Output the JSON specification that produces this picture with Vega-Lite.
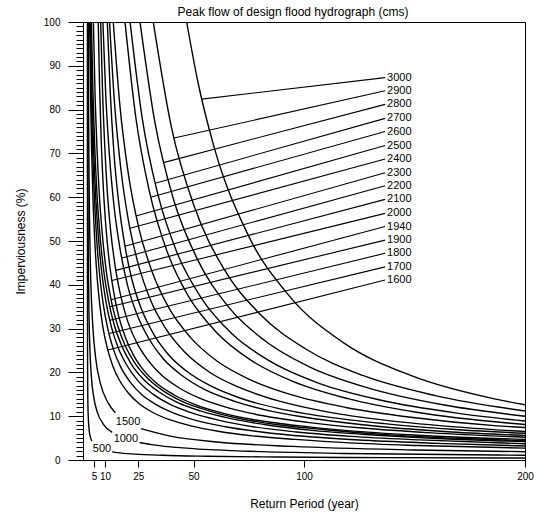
{
  "$schema": "https://vega.github.io/schema/vega-lite/v6.json",
  "width": 442,
  "height": 438,
  "autosize": {"type": "none"},
  "padding": {"left": 83, "top": 22, "right": 12, "bottom": 56},
  "config": {
    "font": "Liberation Sans",
    "view": {"stroke": "black", "strokeWidth": 1}
  },
  "title": {
    "text": "Peak flow of design flood hydrograph (cms)",
    "fontSize": 12,
    "fontWeight": "normal",
    "color": "black",
    "anchor": "middle",
    "offset": 4,
    "dx": -11,
    "dy": 6
  },
  "datasets": {
    "curves": [
      {"flow": 3000, "T": 46.9, "I": 100}, {"flow": 3000, "T": 52, "I": 86.3}, {"flow": 3000, "T": 59.0, "I": 72.0}, {"flow": 3000, "T": 74.3, "I": 51.8}, {"flow": 3000, "T": 93.6, "I": 37.3}, {"flow": 3000, "T": 117.8, "I": 26.8}, {"flow": 3000, "T": 148.3, "I": 19.3}, {"flow": 3000, "T": 186.7, "I": 13.9}, {"flow": 3000, "T": 200, "I": 12.6},
      {"flow": 2900, "T": 31.8, "I": 100}, {"flow": 2900, "T": 40.0, "I": 76.0}, {"flow": 2900, "T": 50.4, "I": 57.8}, {"flow": 2900, "T": 63.4, "I": 43.9}, {"flow": 2900, "T": 79.9, "I": 33.4}, {"flow": 2900, "T": 100.6, "I": 25.4}, {"flow": 2900, "T": 126.6, "I": 19.3}, {"flow": 2900, "T": 159.4, "I": 14.7}, {"flow": 2900, "T": 200, "I": 11.2},
      {"flow": 2800, "T": 25.8, "I": 100}, {"flow": 2800, "T": 32.5, "I": 77.2}, {"flow": 2800, "T": 40.9, "I": 59.6}, {"flow": 2800, "T": 51.5, "I": 46.1}, {"flow": 2800, "T": 64.8, "I": 35.6}, {"flow": 2800, "T": 81.6, "I": 27.5}, {"flow": 2800, "T": 102.7, "I": 21.2}, {"flow": 2800, "T": 129.3, "I": 16.4}, {"flow": 2800, "T": 162.8, "I": 12.6}, {"flow": 2800, "T": 200, "I": 10.0},
      {"flow": 2700, "T": 21.3, "I": 100}, {"flow": 2700, "T": 26.8, "I": 78.0}, {"flow": 2700, "T": 33.8, "I": 60.8}, {"flow": 2700, "T": 42.5, "I": 47.4}, {"flow": 2700, "T": 53.5, "I": 37.0}, {"flow": 2700, "T": 67.4, "I": 28.8}, {"flow": 2700, "T": 84.8, "I": 22.5}, {"flow": 2700, "T": 106.8, "I": 17.5}, {"flow": 2700, "T": 134.4, "I": 13.7}, {"flow": 2700, "T": 169.2, "I": 10.7}, {"flow": 2700, "T": 200, "I": 8.9},
      {"flow": 2600, "T": 19.0, "I": 100}, {"flow": 2600, "T": 23.9, "I": 78.2}, {"flow": 2600, "T": 30.1, "I": 61.2}, {"flow": 2600, "T": 37.9, "I": 47.8}, {"flow": 2600, "T": 47.7, "I": 37.4}, {"flow": 2600, "T": 60.1, "I": 29.3}, {"flow": 2600, "T": 75.6, "I": 22.9}, {"flow": 2600, "T": 95.2, "I": 17.9}, {"flow": 2600, "T": 119.9, "I": 14.0}, {"flow": 2600, "T": 150.9, "I": 10.9}, {"flow": 2600, "T": 200, "I": 8.1},
      {"flow": 2500, "T": 13.7, "I": 100}, {"flow": 2500, "T": 16.7, "I": 80.9}, {"flow": 2500, "T": 20.5, "I": 65.4}, {"flow": 2500, "T": 25.3, "I": 52.9}, {"flow": 2500, "T": 31.4, "I": 42.8}, {"flow": 2500, "T": 39.0, "I": 34.6}, {"flow": 2500, "T": 48.6, "I": 28.0}, {"flow": 2500, "T": 60.6, "I": 22.6}, {"flow": 2500, "T": 75.8, "I": 18.3}, {"flow": 2500, "T": 94.9, "I": 14.8}, {"flow": 2500, "T": 119, "I": 12.0}, {"flow": 2500, "T": 149.3, "I": 9.7}, {"flow": 2500, "T": 187.4, "I": 7.8}, {"flow": 2500, "T": 200, "I": 7.4},
      {"flow": 2400, "T": 12.0, "I": 100}, {"flow": 2400, "T": 14.2, "I": 81.9}, {"flow": 2400, "T": 17.0, "I": 67.0}, {"flow": 2400, "T": 20.5, "I": 54.8}, {"flow": 2400, "T": 24.9, "I": 44.9}, {"flow": 2400, "T": 30.4, "I": 36.7}, {"flow": 2400, "T": 37.3, "I": 30.1}, {"flow": 2400, "T": 46.1, "I": 24.6}, {"flow": 2400, "T": 57.1, "I": 20.1}, {"flow": 2400, "T": 71.0, "I": 16.5}, {"flow": 2400, "T": 88.5, "I": 13.5}, {"flow": 2400, "T": 110.5, "I": 11.0}, {"flow": 2400, "T": 138.2, "I": 9.0}, {"flow": 2400, "T": 173.1, "I": 7.4}, {"flow": 2400, "T": 200, "I": 6.5},
      {"flow": 2300, "T": 11.0, "I": 100}, {"flow": 2300, "T": 12.35, "I": 83.7}, {"flow": 2300, "T": 14.0, "I": 70.1}, {"flow": 2300, "T": 16.2, "I": 58.6}, {"flow": 2300, "T": 18.9, "I": 49.1}, {"flow": 2300, "T": 22.2, "I": 41.1}, {"flow": 2300, "T": 26.5, "I": 34.4}, {"flow": 2300, "T": 31.9, "I": 28.8}, {"flow": 2300, "T": 38.6, "I": 24.1}, {"flow": 2300, "T": 47.1, "I": 20.2}, {"flow": 2300, "T": 57.8, "I": 16.9}, {"flow": 2300, "T": 71.3, "I": 14.1}, {"flow": 2300, "T": 88.2, "I": 11.8}, {"flow": 2300, "T": 109.5, "I": 9.9}, {"flow": 2300, "T": 136.4, "I": 8.3}, {"flow": 2300, "T": 170.2, "I": 6.9}, {"flow": 2300, "T": 200, "I": 6.1},
      {"flow": 2200, "T": 9.0, "I": 100}, {"flow": 2200, "T": 10.3, "I": 83.3}, {"flow": 2200, "T": 12.0, "I": 69.3}, {"flow": 2200, "T": 14.1, "I": 57.7}, {"flow": 2200, "T": 16.8, "I": 48.1}, {"flow": 2200, "T": 20.1, "I": 40.0}, {"flow": 2200, "T": 24.4, "I": 33.3}, {"flow": 2200, "T": 29.7, "I": 27.8}, {"flow": 2200, "T": 36.3, "I": 23.1}, {"flow": 2200, "T": 44.8, "I": 19.3}, {"flow": 2200, "T": 55.4, "I": 16.0}, {"flow": 2200, "T": 68.7, "I": 13.4}, {"flow": 2200, "T": 85.5, "I": 11.1}, {"flow": 2200, "T": 106.6, "I": 9.3}, {"flow": 2200, "T": 133.2, "I": 7.7}, {"flow": 2200, "T": 166.7, "I": 6.4}, {"flow": 2200, "T": 200, "I": 5.6},
      {"flow": 2100, "T": 8.0, "I": 100}, {"flow": 2100, "T": 8.8, "I": 84.9}, {"flow": 2100, "T": 9.8, "I": 72.1}, {"flow": 2100, "T": 11.0, "I": 61.2}, {"flow": 2100, "T": 12.6, "I": 51.9}, {"flow": 2100, "T": 14.6, "I": 44.1}, {"flow": 2100, "T": 17.1, "I": 37.4}, {"flow": 2100, "T": 20.2, "I": 31.7}, {"flow": 2100, "T": 24.2, "I": 26.9}, {"flow": 2100, "T": 29.2, "I": 22.9}, {"flow": 2100, "T": 35.5, "I": 19.4}, {"flow": 2100, "T": 43.4, "I": 16.5}, {"flow": 2100, "T": 53.3, "I": 14.0}, {"flow": 2100, "T": 65.8, "I": 11.9}, {"flow": 2100, "T": 81.6, "I": 10.1}, {"flow": 2100, "T": 101.4, "I": 8.6}, {"flow": 2100, "T": 126.4, "I": 7.3}, {"flow": 2100, "T": 157.8, "I": 6.2}, {"flow": 2100, "T": 200, "I": 5.2},
      {"flow": 2000, "T": 6.9, "I": 100}, {"flow": 2000, "T": 7.5, "I": 85.3}, {"flow": 2000, "T": 8.25, "I": 72.8}, {"flow": 2000, "T": 9.2, "I": 62.1}, {"flow": 2000, "T": 10.4, "I": 53.0}, {"flow": 2000, "T": 11.9, "I": 45.2}, {"flow": 2000, "T": 13.8, "I": 38.6}, {"flow": 2000, "T": 16.1, "I": 32.9}, {"flow": 2000, "T": 19.1, "I": 28.1}, {"flow": 2000, "T": 22.9, "I": 23.9}, {"flow": 2000, "T": 27.6, "I": 20.4}, {"flow": 2000, "T": 33.6, "I": 17.4}, {"flow": 2000, "T": 41.1, "I": 14.9}, {"flow": 2000, "T": 50.5, "I": 12.7}, {"flow": 2000, "T": 62.4, "I": 10.8}, {"flow": 2000, "T": 77.3, "I": 9.2}, {"flow": 2000, "T": 96.2, "I": 7.9}, {"flow": 2000, "T": 119.9, "I": 6.7}, {"flow": 2000, "T": 149.7, "I": 5.7}, {"flow": 2000, "T": 200, "I": 4.7},
      {"flow": 1940, "T": 4.7, "I": 100}, {"flow": 1940, "T": 5.4, "I": 84.6}, {"flow": 1940, "T": 6.3, "I": 71.6}, {"flow": 1940, "T": 7.4, "I": 60.5}, {"flow": 1940, "T": 8.8, "I": 51.2}, {"flow": 1940, "T": 10.5, "I": 43.3}, {"flow": 1940, "T": 12.7, "I": 36.6}, {"flow": 1940, "T": 15.5, "I": 31.0}, {"flow": 1940, "T": 19.0, "I": 26.2}, {"flow": 1940, "T": 23.4, "I": 22.2}, {"flow": 1940, "T": 29, "I": 18.8}, {"flow": 1940, "T": 36, "I": 15.9}, {"flow": 1940, "T": 44.8, "I": 13.4}, {"flow": 1940, "T": 55.9, "I": 11.4}, {"flow": 1940, "T": 69.8, "I": 9.6}, {"flow": 1940, "T": 87.4, "I": 8.1}, {"flow": 1940, "T": 109.5, "I": 6.9}, {"flow": 1940, "T": 137.3, "I": 5.8}, {"flow": 1940, "T": 172.4, "I": 4.9}, {"flow": 1940, "T": 200, "I": 4.4},
      {"flow": 1900, "T": 3.8, "I": 100}, {"flow": 1900, "T": 4.47, "I": 84.5}, {"flow": 1900, "T": 5.32, "I": 71.4}, {"flow": 1900, "T": 6.39, "I": 60.3}, {"flow": 1900, "T": 7.73, "I": 51.0}, {"flow": 1900, "T": 9.42, "I": 43.1}, {"flow": 1900, "T": 11.55, "I": 36.4}, {"flow": 1900, "T": 14.2, "I": 30.7}, {"flow": 1900, "T": 17.6, "I": 26.0}, {"flow": 1900, "T": 21.85, "I": 21.9}, {"flow": 1900, "T": 27.2, "I": 18.5}, {"flow": 1900, "T": 33.9, "I": 15.7}, {"flow": 1900, "T": 42.4, "I": 13.2}, {"flow": 1900, "T": 53.1, "I": 11.2}, {"flow": 1900, "T": 66.5, "I": 9.5}, {"flow": 1900, "T": 83.4, "I": 8.0}, {"flow": 1900, "T": 104.7, "I": 6.7}, {"flow": 1900, "T": 131.5, "I": 5.7}, {"flow": 1900, "T": 165.2, "I": 4.8}, {"flow": 1900, "T": 200, "I": 4.2},
      {"flow": 1800, "T": 3.4, "I": 100}, {"flow": 1800, "T": 4.02, "I": 84.2}, {"flow": 1800, "T": 4.8, "I": 71.0}, {"flow": 1800, "T": 5.79, "I": 59.8}, {"flow": 1800, "T": 7.03, "I": 50.4}, {"flow": 1800, "T": 8.59, "I": 42.4}, {"flow": 1800, "T": 10.55, "I": 35.7}, {"flow": 1800, "T": 13.0, "I": 30.1}, {"flow": 1800, "T": 16.1, "I": 25.4}, {"flow": 1800, "T": 20.1, "I": 21.4}, {"flow": 1800, "T": 25, "I": 18.0}, {"flow": 1800, "T": 31.2, "I": 15.2}, {"flow": 1800, "T": 39.0, "I": 12.8}, {"flow": 1800, "T": 48.9, "I": 10.8}, {"flow": 1800, "T": 61.3, "I": 9.1}, {"flow": 1800, "T": 76.9, "I": 7.6}, {"flow": 1800, "T": 96.5, "I": 6.4}, {"flow": 1800, "T": 121.3, "I": 5.4}, {"flow": 1800, "T": 152.4, "I": 4.6}, {"flow": 1800, "T": 200, "I": 3.7},
      {"flow": 1700, "T": 3.2, "I": 100}, {"flow": 1700, "T": 3.72, "I": 84.2}, {"flow": 1700, "T": 4.37, "I": 70.9}, {"flow": 1700, "T": 5.19, "I": 59.7}, {"flow": 1700, "T": 6.22, "I": 50.2}, {"flow": 1700, "T": 7.52, "I": 42.3}, {"flow": 1700, "T": 9.16, "I": 35.6}, {"flow": 1700, "T": 11.2, "I": 30.0}, {"flow": 1700, "T": 13.8, "I": 25.2}, {"flow": 1700, "T": 17.1, "I": 21.2}, {"flow": 1700, "T": 21.2, "I": 17.9}, {"flow": 1700, "T": 26.4, "I": 15.0}, {"flow": 1700, "T": 32.9, "I": 12.7}, {"flow": 1700, "T": 41.1, "I": 10.7}, {"flow": 1700, "T": 51.4, "I": 9.0}, {"flow": 1700, "T": 64.4, "I": 7.6}, {"flow": 1700, "T": 80.8, "I": 6.4}, {"flow": 1700, "T": 101.4, "I": 5.35}, {"flow": 1700, "T": 127.4, "I": 4.5}, {"flow": 1700, "T": 160.1, "I": 3.8}, {"flow": 1700, "T": 200, "I": 3.2},
      {"flow": 1600, "T": 3.0, "I": 100}, {"flow": 1600, "T": 3.39, "I": 84.3}, {"flow": 1600, "T": 3.88, "I": 71.1}, {"flow": 1600, "T": 4.49, "I": 60.0}, {"flow": 1600, "T": 5.27, "I": 50.6}, {"flow": 1600, "T": 6.24, "I": 42.7}, {"flow": 1600, "T": 7.47, "I": 36.0}, {"flow": 1600, "T": 9.02, "I": 30.3}, {"flow": 1600, "T": 10.97, "I": 25.6}, {"flow": 1600, "T": 13.4, "I": 21.6}, {"flow": 1600, "T": 16.5, "I": 18.2}, {"flow": 1600, "T": 20.4, "I": 15.35}, {"flow": 1600, "T": 25.3, "I": 12.9}, {"flow": 1600, "T": 31.4, "I": 10.9}, {"flow": 1600, "T": 39.2, "I": 9.2}, {"flow": 1600, "T": 48.9, "I": 7.8}, {"flow": 1600, "T": 61.2, "I": 6.55}, {"flow": 1600, "T": 76.7, "I": 5.5}, {"flow": 1600, "T": 96.1, "I": 4.7}, {"flow": 1600, "T": 120.6, "I": 3.9}, {"flow": 1600, "T": 151.5, "I": 3.3}, {"flow": 1600, "T": 200, "I": 2.7},
      {"flow": 1500, "part": 1, "T": 2.37, "I": 100}, {"flow": 1500, "part": 1, "T": 2.47, "I": 86.5}, {"flow": 1500, "part": 1, "T": 2.59, "I": 74.8}, {"flow": 1500, "part": 1, "T": 2.74, "I": 64.7}, {"flow": 1500, "part": 1, "T": 2.93, "I": 55.9}, {"flow": 1500, "part": 1, "T": 3.47, "I": 41.8}, {"flow": 1500, "part": 1, "T": 4.34, "I": 31.3}, {"flow": 1500, "part": 1, "T": 5.7, "I": 23.4}, {"flow": 1500, "part": 1, "T": 7.86, "I": 17.5}, {"flow": 1500, "part": 1, "T": 11.3, "I": 13.1}, {"flow": 1500, "part": 1, "T": 14.6, "I": 10.8},
      {"flow": 1500, "part": 2, "T": 26.2, "I": 7.15}, {"flow": 1500, "part": 2, "T": 39, "I": 5.5}, {"flow": 1500, "part": 2, "T": 60.6, "I": 4.1}, {"flow": 1500, "part": 2, "T": 94.9, "I": 3.1}, {"flow": 1500, "part": 2, "T": 149.3, "I": 2.3}, {"flow": 1500, "part": 2, "T": 200, "I": 1.9},
      {"flow": 1000, "part": 1, "T": 2.12, "I": 100}, {"flow": 1000, "part": 1, "T": 2.18, "I": 75.6}, {"flow": 1000, "part": 1, "T": 2.29, "I": 57.2}, {"flow": 1000, "part": 1, "T": 2.46, "I": 43.3}, {"flow": 1000, "part": 1, "T": 2.73, "I": 32.7}, {"flow": 1000, "part": 1, "T": 3.16, "I": 24.8}, {"flow": 1000, "part": 1, "T": 3.84, "I": 18.7}, {"flow": 1000, "part": 1, "T": 4.91, "I": 14.2}, {"flow": 1000, "part": 1, "T": 6.62, "I": 10.7}, {"flow": 1000, "part": 1, "T": 9.32, "I": 8.1}, {"flow": 1000, "part": 1, "T": 13.2, "I": 6.3},
      {"flow": 1000, "part": 2, "T": 25.6, "I": 4.0}, {"flow": 1000, "part": 2, "T": 31.1, "I": 3.5}, {"flow": 1000, "part": 2, "T": 48.2, "I": 2.65}, {"flow": 1000, "part": 2, "T": 75.2, "I": 2.0}, {"flow": 1000, "part": 2, "T": 118, "I": 1.5}, {"flow": 1000, "part": 2, "T": 200, "I": 1.1},
      {"flow": 500, "part": 1, "T": 2.003, "I": 100}, {"flow": 500, "part": 1, "T": 2.009, "I": 63.5}, {"flow": 500, "part": 1, "T": 2.02, "I": 40.3}, {"flow": 500, "part": 1, "T": 2.05, "I": 25.6}, {"flow": 500, "part": 1, "T": 2.14, "I": 16.3}, {"flow": 500, "part": 1, "T": 2.34, "I": 10.3}, {"flow": 500, "part": 1, "T": 2.85, "I": 6.57}, {"flow": 500, "part": 1, "T": 3.35, "I": 5.24}, {"flow": 500, "part": 1, "T": 4.0, "I": 4.34},
      {"flow": 500, "part": 2, "T": 13.2, "I": 1.86}, {"flow": 500, "part": 2, "T": 15.5, "I": 1.68}, {"flow": 500, "part": 2, "T": 23.5, "I": 1.34}, {"flow": 500, "part": 2, "T": 36, "I": 1.07}, {"flow": 500, "part": 2, "T": 55.9, "I": 0.85}, {"flow": 500, "part": 2, "T": 87.4, "I": 0.68}, {"flow": 500, "part": 2, "T": 137.3, "I": 0.54}, {"flow": 500, "part": 2, "T": 200, "I": 0.45}
    ],
    "leaders": [
      {"flow": 3000, "T": 53.7, "I": 82.4, "labelT": 136.7, "labelI": 87.3},
      {"flow": 2900, "T": 41.2, "I": 73.5, "labelT": 136.7, "labelI": 84.3},
      {"flow": 2800, "T": 36.4, "I": 67.9, "labelT": 136.7, "labelI": 81.2},
      {"flow": 2700, "T": 32.6, "I": 63.2, "labelT": 136.7, "labelI": 78.0},
      {"flow": 2600, "T": 30.6, "I": 60.0, "labelT": 136.7, "labelI": 75.0},
      {"flow": 2500, "T": 24.0, "I": 55.7, "labelT": 136.7, "labelI": 71.8},
      {"flow": 2400, "T": 21.3, "I": 52.9, "labelT": 136.7, "labelI": 68.7},
      {"flow": 2300, "T": 19.0, "I": 48.8, "labelT": 136.7, "labelI": 65.6},
      {"flow": 2200, "T": 17.6, "I": 46.1, "labelT": 136.7, "labelI": 62.6},
      {"flow": 2100, "T": 14.9, "I": 43.3, "labelT": 136.7, "labelI": 59.5},
      {"flow": 2000, "T": 13.1, "I": 41.0, "labelT": 136.7, "labelI": 56.3},
      {"flow": 1940, "T": 12.7, "I": 36.6, "labelT": 136.7, "labelI": 53.3},
      {"flow": 1900, "T": 12.2, "I": 35.0, "labelT": 136.7, "labelI": 50.2},
      {"flow": 1800, "T": 12.2, "I": 31.9, "labelT": 136.7, "labelI": 47.2},
      {"flow": 1700, "T": 11.8, "I": 28.9, "labelT": 136.7, "labelI": 44.1},
      {"flow": 1600, "T": 11.3, "I": 25.1, "labelT": 136.7, "labelI": 41.1}
    ],
    "inline": [
      {"flow": 500, "T": 8.6, "I": 2.4},
      {"flow": 1000, "T": 19.4, "I": 4.8},
      {"flow": 1500, "T": 20.4, "I": 8.6}
    ]
  },
  "layer": [
    {
      "data": {"name": "curves"},
      "mark": {"type": "line", "color": "black", "strokeWidth": 1.4, "interpolate": "monotone"},
      "encoding": {
        "x": {
          "field": "T", "type": "quantitative",
          "scale": {"domain": [0, 200], "nice": false, "zero": true},
          "axis": {
            "title": "Return Period (year)",
            "values": [5, 10, 25, 50, 100, 200],
            "grid": false, "domain": false,
            "tickColor": "black", "tickSize": 7, "tickWidth": 1,
            "labelFontSize": 10, "labelColor": "black", "labelPadding": 4,
            "labelFlush": false, "labelOverlap": false,
            "titleFontSize": 12, "titleFontWeight": "normal", "titleColor": "black", "titlePadding": 17
          }
        },
        "y": {
          "field": "I", "type": "quantitative",
          "scale": {"domain": [0, 100], "nice": false},
          "axis": {
            "title": "Imperviousness (%)",
            "tickCount": 100,
            "grid": false, "domain": false,
            "tickColor": "black", "tickWidth": 1,
            "tickSize": {"condition": {"test": "datum.value % 10 === 0", "value": 15}, "value": 7},
            "labelExpr": "datum.value % 10 === 0 ? datum.label : ''",
            "labelFontSize": 10, "labelColor": "black", "labelPadding": 8,
            "labelFlush": false, "labelOverlap": false,
            "titleFontSize": 12, "titleFontWeight": "normal", "titleColor": "black", "titlePadding": 16
          }
        },
        "detail": [
          {"field": "flow", "type": "nominal"},
          {"field": "part", "type": "nominal"}
        ]
      }
    },
    {
      "data": {"name": "leaders"},
      "mark": {"type": "rule", "color": "black", "strokeWidth": 1.1},
      "encoding": {
        "x": {"field": "T", "type": "quantitative"},
        "y": {"field": "I", "type": "quantitative"},
        "x2": {"field": "labelT"},
        "y2": {"field": "labelI"}
      }
    },
    {
      "data": {"name": "leaders"},
      "mark": {"type": "text", "align": "left", "baseline": "middle", "dx": 2, "fontSize": 11, "fill": "black"},
      "encoding": {
        "x": {"field": "labelT", "type": "quantitative"},
        "y": {"field": "labelI", "type": "quantitative"},
        "text": {"field": "flow", "type": "nominal"}
      }
    },
    {
      "data": {"name": "inline"},
      "mark": {"type": "text", "align": "center", "baseline": "middle", "fontSize": 11, "fill": "black"},
      "encoding": {
        "x": {"field": "T", "type": "quantitative"},
        "y": {"field": "I", "type": "quantitative"},
        "text": {"field": "flow", "type": "nominal"}
      }
    },
    {
      "mark": {"type": "text", "align": "right", "baseline": "middle", "fontSize": 12, "fill": "black"},
      "encoding": {
        "x": {"datum": 197.7, "type": "quantitative"},
        "y": {"datum": 98.4, "type": "quantitative"},
        "text": {"value": "Duration: 48 hours"}
      }
    }
  ]
}
